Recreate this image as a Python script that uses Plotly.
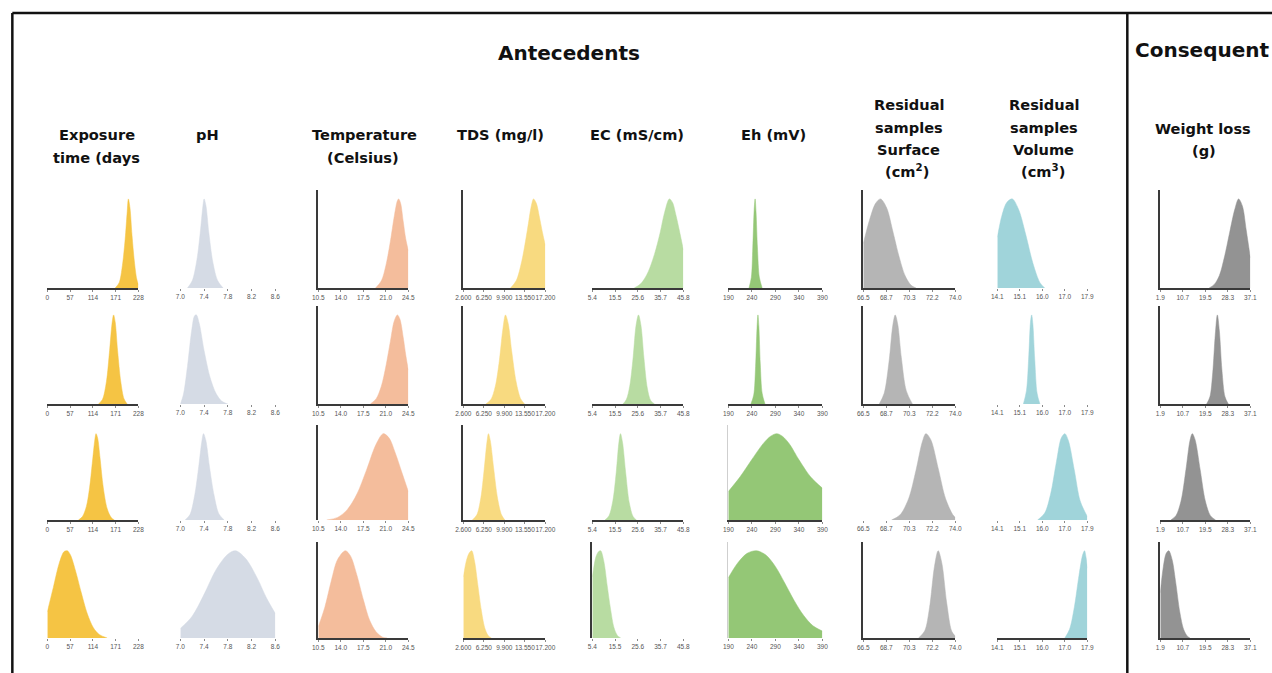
import plotly.graph_objects as go

W, H = 1272, 673

# ---------------- tick values / labels per column ----------------
exposure_ticks = [0, 57, 114, 171, 228]
exposure_ticktext = ["0", "57", "114", "171", "228"]
ph_ticks = [7.0, 7.4, 7.8, 8.2, 8.6]
ph_ticktext = ["7.0", "7.4", "7.8", "8.2", "8.6"]
temp_ticks = [10.5, 14.0, 17.5, 21.0, 24.5]
temp_ticktext = ["10.5", "14.0", "17.5", "21.0", "24.5"]
tds_ticks = [2600, 6250, 9900, 13550, 17200]
tds_ticktext = ["2.600", "6.250", "9.900", "13.550", "17.200"]
ec_ticks = [5.4, 15.5, 25.6, 35.7, 45.8]
ec_ticktext = ["5.4", "15.5", "25.6", "35.7", "45.8"]
eh_ticks = [190, 240, 290, 340, 390]
eh_ticktext = ["190", "240", "290", "340", "390"]
surf_ticks = [66.5, 68.375, 70.25, 72.125, 74.0]
surf_ticktext = ["66.5", "68.7", "70.3", "72.2", "74.0"]
vol_ticks = [14.1, 15.05, 16.0, 16.95, 17.9]
vol_ticktext = ["14.1", "15.1", "16.0", "17.0", "17.9"]
wl_ticks = [1.9, 10.7, 19.5, 28.3, 37.1]
wl_ticktext = ["1.9", "10.7", "19.5", "28.3", "37.1"]

# ---------------- density curves (peak normalised to 1), rows 1..4 ----------------
exposure_x = [
    [170, 180, 188, 195, 200, 203, 207, 212, 218, 224, 228],
    [128, 138, 148, 156, 162, 166, 170, 176, 184, 192, 200],
    [78, 88, 98, 106, 114, 119, 122, 126, 132, 140, 150, 160, 168],
    [0, 15, 30, 42, 50, 58, 70, 85, 100, 115, 130, 150],
]
exposure_d = [
    [0, 0.06, 0.25, 0.55, 0.85, 1.0, 0.9, 0.6, 0.3, 0.1, 0.04],
    [0, 0.05, 0.25, 0.6, 0.9, 1.0, 0.92, 0.6, 0.25, 0.06, 0],
    [0, 0.04, 0.16, 0.38, 0.72, 0.93, 1.0, 0.95, 0.72, 0.38, 0.13, 0.03, 0],
    [0.3, 0.58, 0.86, 0.99, 1.0, 0.95, 0.78, 0.52, 0.28, 0.12, 0.04, 0],
]
ph_x = [
    [7.12, 7.2, 7.28, 7.34, 7.38, 7.4, 7.43, 7.48, 7.55, 7.63, 7.72],
    [7.0, 7.05, 7.12, 7.19, 7.24, 7.27, 7.32, 7.4, 7.5, 7.6, 7.7, 7.8],
    [7.08, 7.16, 7.24, 7.31, 7.36, 7.39, 7.43, 7.49, 7.57, 7.65, 7.74],
    [7.0, 7.2, 7.4, 7.6, 7.8, 7.93, 8.1, 8.3, 8.45, 8.6],
]
ph_d = [
    [0, 0.08, 0.32, 0.65, 0.92, 1.0, 0.93, 0.62, 0.28, 0.08, 0],
    [0, 0.1, 0.42, 0.82, 0.99, 1.0, 0.9, 0.6, 0.3, 0.12, 0.03, 0],
    [0, 0.06, 0.28, 0.62, 0.9, 1.0, 0.92, 0.62, 0.28, 0.07, 0],
    [0.11, 0.25, 0.5, 0.78, 0.96, 1.0, 0.91, 0.68, 0.46, 0.28],
]
temp_x = [
    [19.4, 20.3, 21.0, 21.7, 22.3, 22.8, 23.0, 23.3, 23.7, 24.1, 24.5],
    [18.6, 19.5, 20.3, 21.0, 21.7, 22.3, 22.8, 23.2, 23.7, 24.1, 24.5],
    [11.8, 13.5, 15.0, 16.5, 18.0, 19.5, 20.6, 21.5, 22.5, 23.5, 24.5],
    [10.5, 11.5, 12.5, 13.5, 14.7, 15.5, 16.5, 17.5, 18.5, 19.5, 20.5, 21.2],
]
temp_d = [
    [0, 0.08, 0.25, 0.52, 0.8, 0.98, 1.0, 0.95, 0.75, 0.55, 0.42],
    [0, 0.06, 0.2, 0.42, 0.7, 0.93, 1.0, 0.95, 0.75, 0.55, 0.38],
    [0, 0.03, 0.12, 0.3, 0.58, 0.88, 1.0, 0.95, 0.77, 0.55, 0.33],
    [0.13, 0.35, 0.65, 0.9, 1.0, 0.94, 0.72, 0.44, 0.2, 0.07, 0.01, 0],
]
tds_x = [
    [11000, 12000, 13000, 14000, 14700, 15100, 15600, 16200, 16700, 17200],
    [6600, 7500, 8300, 9000, 9600, 10100, 10600, 11200, 12000, 12800, 13500],
    [4200, 5000, 5700, 6300, 6800, 7070, 7400, 8000, 8700, 9400, 10000],
    [2600, 3200, 3700, 4100, 4600, 5200, 5800, 6400, 7000, 7600],
]
tds_d = [
    [0, 0.08, 0.3, 0.65, 0.92, 1.0, 0.95, 0.78, 0.62, 0.48],
    [0, 0.05, 0.2, 0.48, 0.82, 1.0, 0.9, 0.6, 0.25, 0.06, 0],
    [0, 0.06, 0.25, 0.58, 0.9, 1.0, 0.92, 0.6, 0.25, 0.06, 0],
    [0.7, 0.9, 0.98, 1.0, 0.88, 0.6, 0.32, 0.12, 0.03, 0],
]
ec_x = [
    [24, 27, 30, 33, 35.5, 37.5, 39.6, 41, 42.5, 44, 45.8],
    [19, 20.5, 22, 23.5, 24.8, 25.9, 27, 28.3, 29.8, 31.3, 33],
    [11, 12.8, 14.5, 16, 17.2, 17.9, 18.8, 20.2, 21.8, 23.5, 25],
    [5.4, 7, 8.2, 9.1, 10.5, 12, 13.5, 15, 16.5, 18],
]
ec_d = [
    [0, 0.05, 0.17, 0.38, 0.62, 0.85, 1.0, 0.96, 0.82, 0.65, 0.43],
    [0, 0.05, 0.2, 0.52, 0.88, 1.0, 0.88, 0.52, 0.18, 0.04, 0],
    [0, 0.05, 0.22, 0.55, 0.9, 1.0, 0.9, 0.55, 0.2, 0.04, 0],
    [0.7, 0.93, 0.99, 1.0, 0.88, 0.6, 0.33, 0.12, 0.03, 0],
]
eh_x = [
    [234, 239, 242, 245, 247, 249, 252, 256, 262],
    [238, 244, 248, 251, 253, 255, 258, 262, 268],
    [190, 215, 240, 265, 280, 293, 305, 320, 340, 365, 390],
    [190, 210, 230, 250, 270, 290, 310, 330, 350, 370, 390],
]
eh_d = [
    [0, 0.12, 0.45, 0.88, 1.0, 0.85, 0.45, 0.12, 0],
    [0, 0.1, 0.42, 0.85, 1.0, 0.87, 0.45, 0.12, 0],
    [0.33, 0.5, 0.7, 0.89, 0.97, 1.0, 0.97, 0.88, 0.7, 0.5, 0.37],
    [0.69, 0.86, 0.97, 1.0, 0.95, 0.82, 0.63, 0.43, 0.26, 0.14, 0.08],
]
surf_x = [
    [66.5, 67.0, 67.5, 67.9, 68.4, 68.9, 69.4, 69.9, 70.4, 70.8],
    [67.8, 68.2, 68.6, 68.9, 69.1, 69.3, 69.6, 70.0, 70.5],
    [68.8, 69.5, 70.2, 70.8, 71.3, 71.6, 72.0, 72.6, 73.2, 73.8, 74.0],
    [71.0, 71.5, 71.9, 72.3, 72.6, 72.9, 73.3, 73.7, 74.0],
]
surf_d = [
    [0.5, 0.76, 0.95, 1.0, 0.9, 0.64, 0.36, 0.14, 0.03, 0],
    [0, 0.12, 0.48, 0.88, 1.0, 0.9, 0.52, 0.15, 0],
    [0, 0.06, 0.25, 0.58, 0.9, 1.0, 0.93, 0.6, 0.25, 0.06, 0.03],
    [0, 0.08, 0.35, 0.82, 1.0, 0.86, 0.4, 0.08, 0.02],
]
vol_x = [
    [14.1, 14.3, 14.5, 14.73, 15.0, 15.3, 15.6, 15.9, 16.1],
    [15.2, 15.33, 15.43, 15.5, 15.55, 15.6, 15.68, 15.78, 15.9],
    [15.8, 16.1, 16.35, 16.6, 16.8, 16.95, 17.1, 17.35, 17.6, 17.9],
    [16.95, 17.15, 17.35, 17.55, 17.7, 17.78, 17.85, 17.9],
]
vol_d = [
    [0.57, 0.82, 0.96, 1.0, 0.88, 0.6, 0.28, 0.06, 0],
    [0, 0.15, 0.55, 0.92, 1.0, 0.9, 0.5, 0.12, 0],
    [0, 0.08, 0.3, 0.68, 0.95, 1.0, 0.92, 0.58, 0.22, 0.04],
    [0, 0.1, 0.35, 0.72, 0.95, 1.0, 0.92, 0.8],
]
wl_x = [
    [21, 23, 25, 27, 29, 31, 32.5, 34, 35.5, 37.1],
    [20, 21.3, 22.4, 23.4, 24.2, 25.0, 26.0, 27.2, 28.5],
    [6, 8, 10, 12, 13.5, 14.4, 15.5, 17.5, 19.5, 21.5, 23.5],
    [1.9, 3, 4.2, 5.2, 6.5, 8, 9.5, 11, 12.5, 13.5],
]
wl_d = [
    [0, 0.04, 0.14, 0.35, 0.62, 0.88, 1.0, 0.92, 0.65, 0.34],
    [0, 0.08, 0.35, 0.78, 1.0, 0.82, 0.38, 0.08, 0],
    [0, 0.05, 0.22, 0.6, 0.92, 1.0, 0.93, 0.58, 0.22, 0.05, 0],
    [0.52, 0.8, 0.97, 1.0, 0.9, 0.62, 0.3, 0.1, 0.02, 0],
]

# ---------------- styling / layout (pixels) ----------------
columns = [
    dict(x=exposure_x, d=exposure_d, ticks=exposure_ticks, text=exposure_ticktext, color="#F5C444"),
    dict(x=ph_x, d=ph_d, ticks=ph_ticks, text=ph_ticktext, color="#D5DBE5"),
    dict(x=temp_x, d=temp_d, ticks=temp_ticks, text=temp_ticktext, color="#F4BD9C"),
    dict(x=tds_x, d=tds_d, ticks=tds_ticks, text=tds_ticktext, color="#F8DA80"),
    dict(x=ec_x, d=ec_d, ticks=ec_ticks, text=ec_ticktext, color="#B8DCA2"),
    dict(x=eh_x, d=eh_d, ticks=eh_ticks, text=eh_ticktext, color="#94C776"),
    dict(x=surf_x, d=surf_d, ticks=surf_ticks, text=surf_ticktext, color="#B5B5B5"),
    dict(x=vol_x, d=vol_d, ticks=vol_ticks, text=vol_ticktext, color="#A0D4DA"),
    dict(x=wl_x, d=wl_d, ticks=wl_ticks, text=wl_ticktext, color="#939393"),
]

# target screen positions (pixels) of the panels
col_px = [(47, 138), (180, 275), (318, 408), (463, 545), (592, 683),
          (728, 822), (863, 955), (997, 1087), (1160, 1250)]
row_px = [(190, 288), (306, 404), (425, 520), (542, 638)]


# the viewer draws the page slightly narrower and offset; compensate
def PX(x):
    return ((x - 7.66) / 0.98587) / W


def PY(y):
    return 1 - y / H


show_xline = [
    [1, 0, 1, 1, 1, 1, 1, 0, 1],
    [1, 0, 1, 1, 1, 1, 1, 0, 1],
    [1, 0, 0, 1, 1, 1, 0, 0, 1],
    [0, 0, 1, 1, 0, 0, 1, 1, 1],
]
show_yline = [
    [0, 0, 1, 1, 0, 0, 1, 0, 1],
    [0, 0, 1, 1, 0, 0, 1, 0, 1],
    [0, 0, 1, 1, 0, 2, 0, 0, 0],
    [0, 0, 1, 0, 1, 2, 1, 0, 1],
]

fig = go.Figure()
layout = {}
for c, col in enumerate(columns):
    for r in range(4):
        n = r * 9 + c + 1
        xa = "x" if n == 1 else f"x{n}"
        ya = "y" if n == 1 else f"y{n}"
        fig.add_trace(go.Scatter(
            x=col["x"][r], y=col["d"][r], mode="lines",
            line=dict(color=col["color"], width=0.5, shape="spline", smoothing=0.9),
            fill="tozeroy", fillcolor=col["color"],
            xaxis=xa, yaxis=ya, hoverinfo="skip", showlegend=False,
        ))
        x0, x1 = col_px[c]
        yt, yb = row_px[r]
        yl = show_yline[r][c]
        layout["xaxis" if n == 1 else f"xaxis{n}"] = dict(
            domain=[PX(x0), PX(x1)], range=[col["ticks"][0], col["ticks"][-1]],
            anchor=ya, tickmode="array", tickvals=col["ticks"], ticktext=col["text"],
            showline=bool(show_xline[r][c]), linecolor="#3a3a3a", linewidth=1.6,
            ticks="outside", ticklen=2, tickwidth=1, tickcolor="#8a8a8a",
            tickfont=dict(size=6.5, color="#555555", family="Liberation Sans"),
            showgrid=False, zeroline=False, fixedrange=True, tickangle=0,
        )
        layout["yaxis" if n == 1 else f"yaxis{n}"] = dict(
            domain=[PY(yb), PY(yt)], range=[0, 1.1], anchor=xa,
            showticklabels=False, showgrid=False, zeroline=False, ticks="",
            showline=bool(yl), linecolor="#3a3a3a" if yl == 1 else "#cfcfcf",
            linewidth=1.6 if yl == 1 else 1, fixedrange=True,
        )

# ---------------- headers ----------------
headers = [
    ("Exposure", 97, 135), ("time (days", 96, 157),
    ("pH", 207, 135),
    ("Temperature", 364, 135), ("(Celsius)", 363, 157),
    ("TDS (mg/l)", 500, 135),
    ("EC (mS/cm)", 637, 135),
    ("Eh (mV)", 773, 135),
    ("Residual", 909, 104), ("samples", 909, 127), ("Surface", 908, 149), ("(cm<sup>2</sup>)", 907, 171),
    ("Residual", 1044, 104), ("samples", 1044, 127), ("Volume", 1043, 149), ("(cm<sup>3</sup>)", 1043, 171),
    ("Weight loss", 1203, 128), ("(g)", 1204, 150),
]
annotations = []
for txt, px, py in headers:
    annotations.append(dict(
        text=f"<b>{txt}</b>", x=PX(px), y=PY(py), xref="paper", yref="paper",
        xanchor="center", yanchor="middle", showarrow=False,
        font=dict(family="DejaVu Sans", size=14.6, color="#111111"),
    ))
annotations.append(dict(
    text="<b>Antecedents</b>", x=PX(569), y=PY(53), xref="paper", yref="paper",
    xanchor="center", yanchor="middle", showarrow=False,
    font=dict(family="DejaVu Sans", size=20, color="#111111"),
))
annotations.append(dict(
    text="<b>Consequent</b>", x=PX(1133), y=PY(50), xref="paper", yref="paper",
    xanchor="left", yanchor="middle", showarrow=False,
    font=dict(family="DejaVu Sans", size=20, color="#111111"),
))

# ---------------- frame lines ----------------
shapes = [
    dict(type="line", xref="paper", yref="paper", x0=PX(12), x1=PX(1290), y0=PY(13), y1=PY(13),
         line=dict(color="#111111", width=2.5)),
    dict(type="line", xref="paper", yref="paper", x0=PX(12), x1=PX(12), y0=0, y1=PY(13),
         line=dict(color="#111111", width=2.5)),
    dict(type="line", xref="paper", yref="paper", x0=PX(1127), x1=PX(1127), y0=0, y1=PY(13),
         line=dict(color="#111111", width=2.5)),
]

fig.update_layout(
    width=W, height=H, autosize=False, margin=dict(l=0, r=0, t=0, b=0, pad=0),
    paper_bgcolor="white", plot_bgcolor="rgba(0,0,0,0)",
    showlegend=False, annotations=annotations, shapes=shapes, **layout,
)
fig.write_html(
    "out.html",
    config={"displayModeBar": False, "responsive": False},
    default_width="1272px", default_height="673px",
    post_script=(
        "document.documentElement.style.margin='0';"
        "document.documentElement.style.overflow='hidden';"
        "document.body.style.margin='0';document.body.style.padding='0';"
        "document.body.style.overflow='hidden';"
        "var gd=document.getElementById('{plot_id}');"
        "gd.style.position='absolute';gd.style.left='0px';gd.style.top='0px';"
    ),
)
